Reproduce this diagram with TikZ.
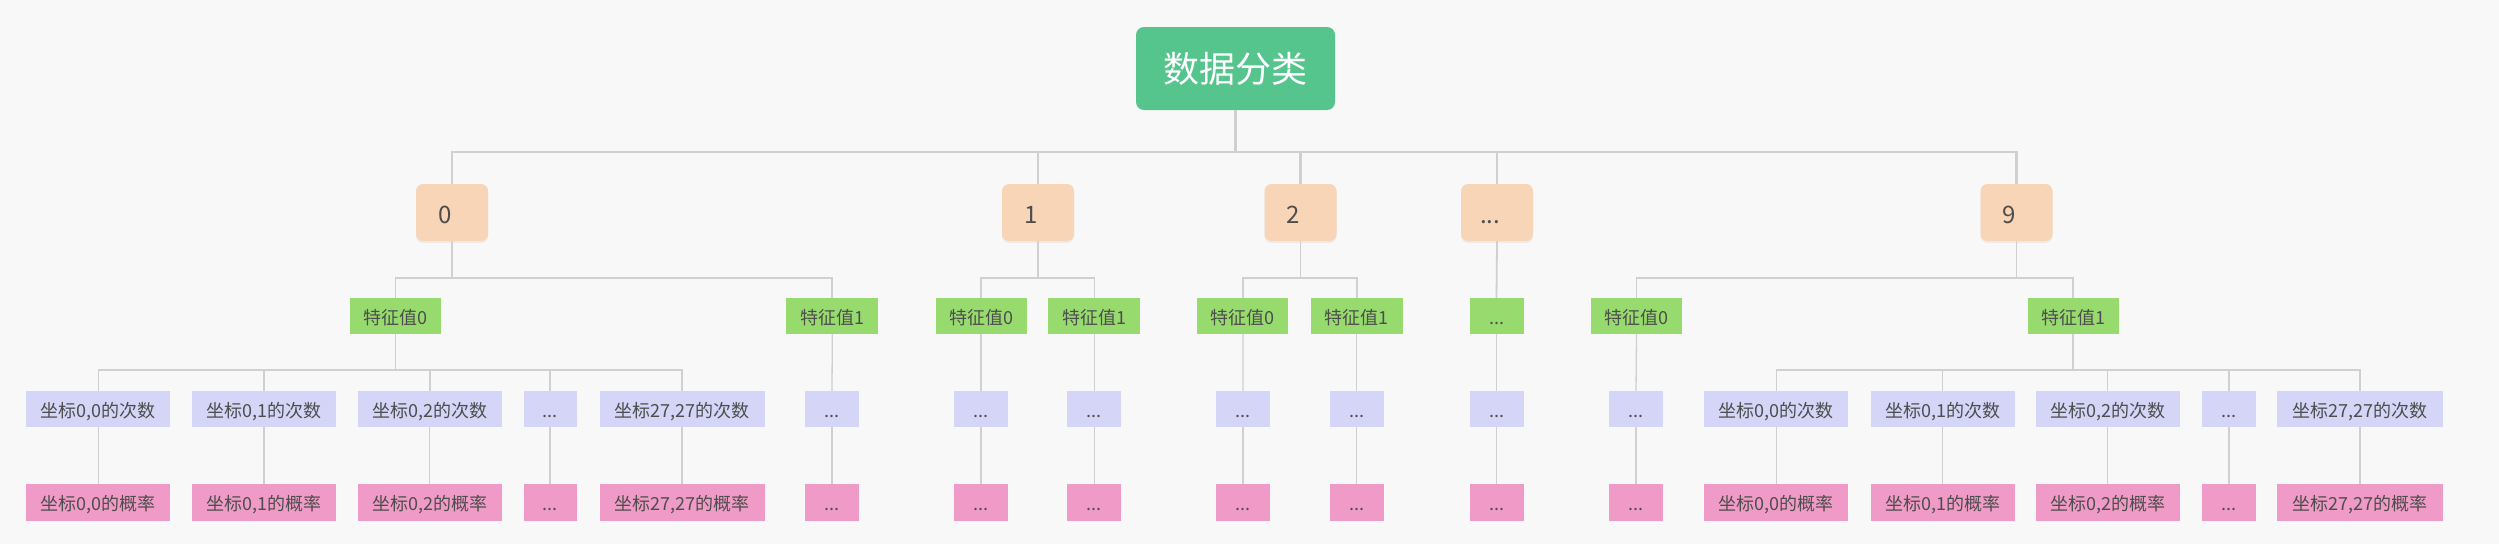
\documentclass[tikz,border=0pt]{standalone}
\usepackage{fontspec}
\newfontfamily\cjk{Noto Sans CJK SC}
\usetikzlibrary{shadows}
\definecolor{bg}{HTML}{F8F8F8}
\definecolor{rootc}{HTML}{55C48D}
\definecolor{lvone}{HTML}{F7D5B6}
\definecolor{lvtwo}{HTML}{97DB6E}
\definecolor{lvthree}{HTML}{D4D5F7}
\definecolor{lvfour}{HTML}{F09BC7}
\definecolor{linec}{HTML}{D0D0D0}
\definecolor{txt}{HTML}{4D4D4D}
\begin{document}
\begin{tikzpicture}[x=1pt,y=-1pt,
  rootbox/.style={fill=rootc, rounded corners=8pt, minimum width=199pt, minimum height=83pt, inner sep=0pt, text=white, font=\cjk\fontsize{36}{40}\selectfont},
  onebox/.style={fill=lvone, rounded corners=7pt, minimum width=72pt, minimum height=57pt, inner sep=0pt, text=txt, text height=21pt, text depth=0pt, font=\cjk\fontsize{24}{28}\selectfont, drop shadow={opacity=0.10, shadow xshift=0pt, shadow yshift=-2pt}},
  smallbox/.style={minimum height=36pt, inner sep=0pt, text=txt, text height=16pt, text depth=0pt, font=\cjk\fontsize{18}{22}\selectfont},
  twobox/.style={smallbox, fill=lvtwo, minimum width=#1},
  twobox/.default=91pt,
  threebox/.style={smallbox, fill=lvthree, minimum width=#1},
  threebox/.default=54pt,
  fourbox/.style={smallbox, fill=lvfour, minimum width=#1, minimum height=37pt},
  fourbox/.default=54pt,
  lzero/.style={draw=linec, line width=2.5pt},
  lone/.style={draw=linec, line width=1.8pt},
  ltwo/.style={draw=linec, line width=1.6pt},
  lthree/.style={draw=linec, line width=1.3pt}
]
\fill[bg] (0,0) rectangle (2499,544);
\useasboundingbox (0,0) rectangle (2499,544);

% bar levels
\coordinate (b0) at (0,152);
\coordinate (b1) at (0,278);
\coordinate (b2) at (0,370);

% root
\node[rootbox] (root) at (1235.5,68.5) {数据分类};

% level 1
\node[onebox] (n0) at (452,212.5) {0\kern14pt};
\node[onebox] (n1) at (1038,212.5) {1\kern14pt};
\node[onebox] (n2) at (1300.5,212.5) {2\kern14pt};
\node[onebox] (n3) at (1497,212.5) {...\kern14pt};
\node[onebox] (n9) at (2016.5,212.5) {9\kern14pt};

% level 2
\node[twobox] (f00) at (395.4,316) {特征值0};
\node[twobox=92pt] (f01) at (832.3,316) {特征值1};
\node[twobox] (f10) at (981,316) {特征值0};
\node[twobox=92pt] (f11) at (1094.4,316) {特征值1};
\node[twobox] (f20) at (1242.9,316) {特征值0};
\node[twobox=92pt] (f21) at (1356.6,316) {特征值1};
\node[twobox=54pt] (f30) at (1496.5,316) {...};
\node[twobox] (f90) at (1636.5,316) {特征值0};
\node[twobox] (f91) at (2073.2,316) {特征值1};

% level 3
\node[threebox=144pt] (t00a) at (98.4,409) {坐标0,0的次数};
\node[threebox=144pt] (t00b) at (264,409) {坐标0,1的次数};
\node[threebox=144pt] (t00c) at (429.8,409) {坐标0,2的次数};
\node[threebox=53pt] (t00d) at (550,409) {...};
\node[threebox=165pt] (t00e) at (682,409) {坐标27,27的次数};
\node[threebox] (t01) at (832,409) {...};
\node[threebox] (t10) at (981,409) {...};
\node[threebox] (t11) at (1094.4,409) {...};
\node[threebox] (t20) at (1243,409) {...};
\node[threebox] (t21) at (1356.6,409) {...};
\node[threebox] (t30) at (1496.5,409) {...};
\node[threebox] (t90) at (1636,409) {...};
\node[threebox=144pt] (t91a) at (1776.4,409) {坐标0,0的次数};
\node[threebox=144pt] (t91b) at (1942.5,409) {坐标0,1的次数};
\node[threebox=144pt] (t91c) at (2107.6,409) {坐标0,2的次数};
\node[threebox] (t91d) at (2229,409) {...};
\node[threebox=166pt] (t91e) at (2360,409) {坐标27,27的次数};

% level 4
\node[fourbox=144pt] (p00a) at (98.4,502.5) {坐标0,0的概率};
\node[fourbox=144pt] (p00b) at (264,502.5) {坐标0,1的概率};
\node[fourbox=144pt] (p00c) at (429.8,502.5) {坐标0,2的概率};
\node[fourbox=53pt] (p00d) at (550,502.5) {...};
\node[fourbox=165pt] (p00e) at (682,502.5) {坐标27,27的概率};
\node[fourbox] (p01) at (832,502.5) {...};
\node[fourbox] (p10) at (981,502.5) {...};
\node[fourbox] (p11) at (1094.4,502.5) {...};
\node[fourbox] (p20) at (1243,502.5) {...};
\node[fourbox] (p21) at (1356.6,502.5) {...};
\node[fourbox] (p30) at (1496.5,502.5) {...};
\node[fourbox] (p90) at (1636,502.5) {...};
\node[fourbox=144pt] (p91a) at (1776.4,502.5) {坐标0,0的概率};
\node[fourbox=144pt] (p91b) at (1942.5,502.5) {坐标0,1的概率};
\node[fourbox=144pt] (p91c) at (2107.6,502.5) {坐标0,2的概率};
\node[fourbox] (p91d) at (2229,502.5) {...};
\node[fourbox=166pt] (p91e) at (2360,502.5) {坐标27,27的概率};

% connectors level 0 -> 1
\foreach \c in {n0,n1,n2,n3,n9}
  \draw[lzero] (root.south) -- (root.south |- b0) -| (\c.north);

% level 1 -> 2
\foreach \p/\c in {n0/f00,n0/f01,n1/f10,n1/f11,n2/f20,n2/f21,n9/f90,n9/f91}
  \draw[lone] (\p.south) -- (\p.south |- b1) -| (\c.north);
\draw[lone] (n3.south) -- (f30.north);

% level 2 -> 3
\foreach \c in {t00a,t00b,t00c,t00d,t00e}
  \draw[ltwo] (f00.south) -- (f00.south |- b2) -| (\c.north);
\foreach \c in {t91a,t91b,t91c,t91d,t91e}
  \draw[ltwo] (f91.south) -- (f91.south |- b2) -| (\c.north);
\foreach \p/\c in {f01/t01,f10/t10,f11/t11,f20/t20,f21/t21,f30/t30,f90/t90}
  \draw[lthree] (\p.south) -- (\c.north);

% level 3 -> 4
\foreach \p/\c in {t00a/p00a,t00b/p00b,t00c/p00c,t00d/p00d,t00e/p00e,t01/p01,t10/p10,t11/p11,t20/p20,t21/p21,t30/p30,t90/p90,t91a/p91a,t91b/p91b,t91c/p91c,t91d/p91d,t91e/p91e}
  \draw[lthree] (\p.south) -- (\c.north);
\end{tikzpicture}
\end{document}
